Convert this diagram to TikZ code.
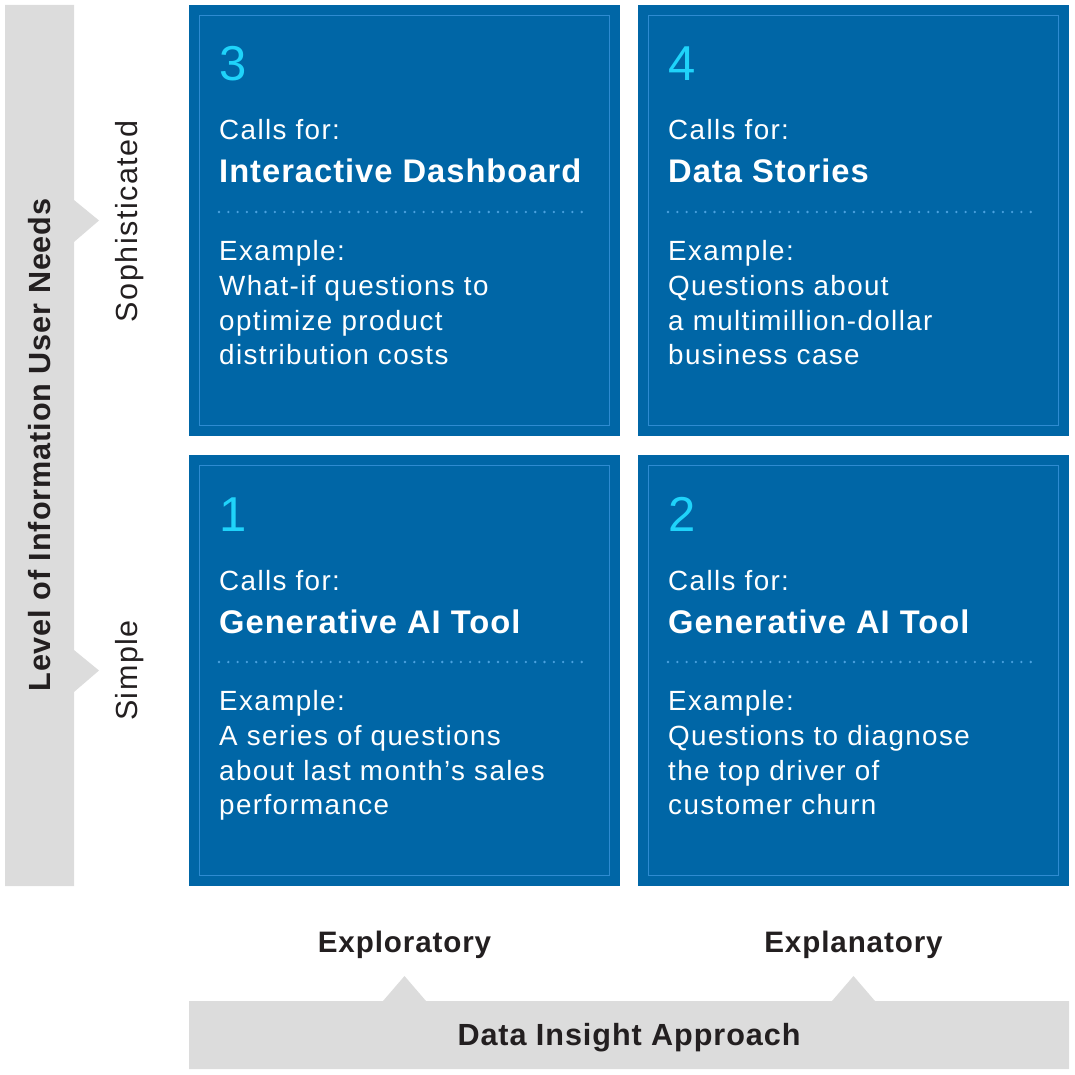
\documentclass[tikz,border=0pt]{standalone}
\usepackage{fontspec}
\setmainfont{Liberation Sans}
\newfontfamily\bodyfont[LetterSpace=5]{Liberation Sans}
\newfontfamily\headfont[LetterSpace=3]{Liberation Sans}
\usepackage{tikz}
\usetikzlibrary{positioning, calc}
\definecolor{quadblue}{HTML}{0066A6}
\definecolor{quadline}{HTML}{2E8BD1}
\definecolor{numcyan}{HTML}{1FD3FA}
\definecolor{dotblue}{HTML}{4AA2E0}
\definecolor{axisgray}{HTML}{DCDCDC}
\definecolor{inkdark}{HTML}{231F20}

\begin{document}
\begin{tikzpicture}[x=1pt,y=-1pt]
	\def \numrow{81}
	\def \callrow{140}
	\def \headrow{183}
	\def \seprow{212}
	\def \exrow{260}
	\def \rowa{295}
	\def \rowb{330}
	\def \rowc{364}
	\def \drop{450}

	\tikzstyle{quad}=[rectangle,fill=quadblue,inner sep=0pt,minimum size=431pt]
	\tikzstyle{quadin}=[rectangle,draw=quadline,line width=1.5pt,inner sep=0pt,minimum size=410pt]
	\tikzstyle{num}=[anchor=base west,inner sep=0pt,text=numcyan,font=\bodyfont\fontsize{49}{49}\selectfont]
	\tikzstyle{txt}=[anchor=base west,inner sep=0pt,text=white,font=\bodyfont\fontsize{27.8}{27.8}\selectfont]
	\tikzstyle{head}=[anchor=base west,inner sep=0pt,text=white,font=\headfont\bfseries\fontsize{32.7}{32.7}\selectfont]
	\tikzstyle{sep}=[draw=dotblue,line width=2.6pt,line cap=round,dash pattern=on 0pt off 9.3pt]
	\tikzstyle{axis}=[fill=axisgray]
	% labels
	\tikzstyle{level}=[anchor=base,inner sep=0pt,text=inkdark,font=\bodyfont\fontsize{30.5}{30.5}\selectfont]
	\tikzstyle{approach}=[anchor=base,inner sep=0pt,text=inkdark,font=\headfont\bfseries\fontsize{29.6}{29.6}\selectfont]
	\tikzstyle{axistitle}=[anchor=base,inner sep=0pt,text=inkdark,font=\headfont\bfseries\fontsize{30.6}{30.6}\selectfont]

	\useasboundingbox (0,0) rectangle (1075,1075);

	% axes
	\fill[axis] (5,5) -- (74,5) -- (74,200) -- (99,220.5) -- (74,242) -- (74,650) -- (99,670.5) -- (74,692) -- (74,886) -- (5,886) -- cycle;
	\fill[axis] (189,1001) -- (383,1001) -- (404.5,976) -- (426,1001) -- (832,1001) -- (853.5,976) -- (875,1001) -- (1069,1001) -- (1069,1069) -- (189,1069) -- cycle;

	\node[axistitle,rotate=90] 	(needs)	at (50.5,445)	{Level of Information User Needs};
	\node[level,rotate=90] 	(soph)	at (137,221.5)	{Sophisticated};
	\node[level,rotate=90] 	(simple)	at (137,670.5)	{Simple};
	\node[approach] 	(explor)	at (404.5,952.7)	{Exploratory};
	\node[approach] 	(explan)	at (853.5,952.7)	{Explanatory};
	\node[axistitle] 	(insight)	at (629,1045.5)	{Data Insight Approach};

	% quadrants
	\node[quad] 	(q3)	at (404.5,220.5)	{};
	\node[quad] 	(q4)	at (853.5,220.5)	{};
	\node[quad] 	(q1)	at (404.5,670.5)	{};
	\node[quad] 	(q2)	at (853.5,670.5)	{};
	\node[quadin] 	(q3in)	at (q3)	{};
	\node[quadin] 	(q4in)	at (q4)	{};
	\node[quadin] 	(q1in)	at (q1)	{};
	\node[quadin] 	(q2in)	at (q2)	{};

	% quadrant 3
	\node[num] 	(n3)	at (219,\numrow)	{3};
	\node[txt] 	(c3)	at (219,\callrow)	{Calls for:};
	\node[head] 	(h3)	at (219,\headrow)	{Interactive Dashboard};
	\draw[sep] (219,\seprow) -- (585,\seprow);
	\node[txt] 	(e3)	at (219,\exrow)	{Example:};
	\node[txt] 	(e3a)	at (219,\rowa)	{What-if questions to};
	\node[txt] 	(e3b)	at (219,\rowb)	{optimize product};
	\node[txt] 	(e3c)	at (219,\rowc)	{distribution costs};

	% quadrant 4
	\node[num] 	(n4)	at (668,\numrow)	{4};
	\node[txt] 	(c4)	at (668,\callrow)	{Calls for:};
	\node[head] 	(h4)	at (668,\headrow)	{Data Stories};
	\draw[sep] (668,\seprow) -- (1034,\seprow);
	\node[txt] 	(e4)	at (668,\exrow)	{Example:};
	\node[txt] 	(e4a)	at (668,\rowa)	{Questions about};
	\node[txt] 	(e4b)	at (668,\rowb)	{a multimillion-dollar};
	\node[txt] 	(e4c)	at (668,\rowc)	{business case};

	% quadrant 1
	\node[num] 	(n1)	at (219,\numrow+\drop)	{1};
	\node[txt] 	(c1)	at (219,\callrow+\drop)	{Calls for:};
	\node[head] 	(h1)	at (219,\headrow+\drop)	{Generative AI Tool};
	\draw[sep] (219,\seprow+\drop) -- (585,\seprow+\drop);
	\node[txt] 	(e1)	at (219,\exrow+\drop)	{Example:};
	\node[txt] 	(e1a)	at (219,\rowa+\drop)	{A series of questions};
	\node[txt] 	(e1b)	at (219,\rowb+\drop)	{about last month’s sales};
	\node[txt] 	(e1c)	at (219,\rowc+\drop)	{performance};

	% quadrant 2
	\node[num] 	(n2)	at (668,\numrow+\drop)	{2};
	\node[txt] 	(c2)	at (668,\callrow+\drop)	{Calls for:};
	\node[head] 	(h2)	at (668,\headrow+\drop)	{Generative AI Tool};
	\draw[sep] (668,\seprow+\drop) -- (1034,\seprow+\drop);
	\node[txt] 	(e2)	at (668,\exrow+\drop)	{Example:};
	\node[txt] 	(e2a)	at (668,\rowa+\drop)	{Questions to diagnose};
	\node[txt] 	(e2b)	at (668,\rowb+\drop)	{the top driver of};
	\node[txt] 	(e2c)	at (668,\rowc+\drop)	{customer churn};
\end{tikzpicture}
\end{document}
